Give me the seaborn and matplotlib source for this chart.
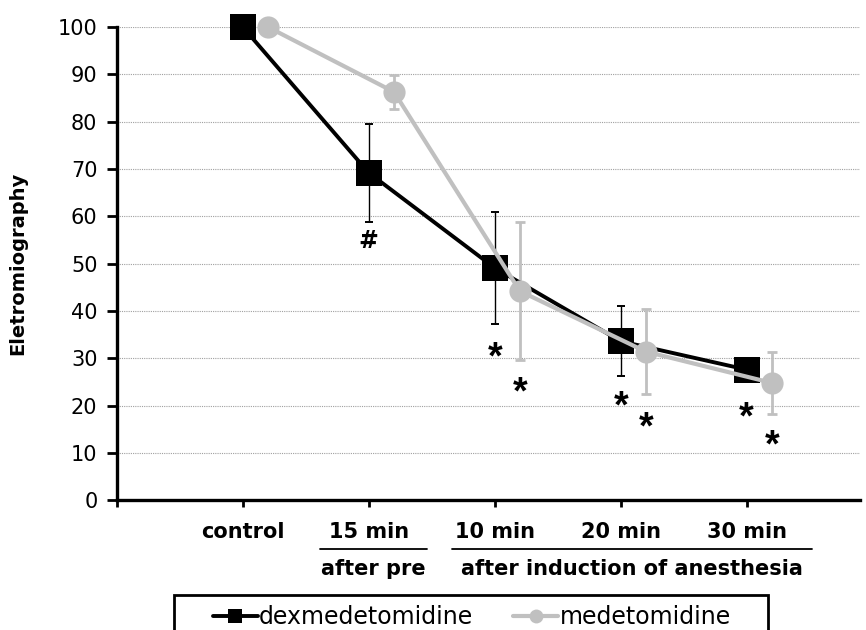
import numpy as np
import pandas as pd
import matplotlib.pyplot as plt
import seaborn as sns
from matplotlib.patches import Rectangle

# data (mean and SD per time point)
categories = ["control", "15 min", "10 min", "20 min", "30 min"]
dex_mean = [100, 69.2, 49.1, 33.6, 27.6]
dex_sd = [0, 10.4, 11.8, 7.4, 0.8]
med_mean = [100, 86.3, 44.2, 31.4, 24.8]
med_sd = [0, 3.6, 14.5, 9.0, 6.5]

# significance marks
sig_text = ["#", "*", "*", "*", "*", "*", "*"]
sig_cat = [1, 2, 2, 3, 3, 4, 4]
sig_series = ["dex", "dex", "med", "dex", "med", "dex", "med"]
sig_y = [54.8, 31.5, 24.1, 21.0, 16.7, 18.7, 12.9]

# period labels under the time points
group_labels = ["after pre", "after induction of anesthesia"]
group_start = [1.61, 2.66]
group_end = [2.46, 5.52]

GRAY = "#c0c0c0"
MED_SHIFT = 0.2

sns.set_style("white")
plt.rcParams["font.family"] = ["DejaVu Sans"]
for key in ["text.color", "axes.labelcolor", "xtick.color", "ytick.color"]:
    plt.rcParams[key] = "black"

pos = np.arange(1, len(categories) + 1)
df = pd.DataFrame({
    "pos": np.concatenate([pos, pos + MED_SHIFT]),
    "value": dex_mean + med_mean,
    "sd": dex_sd + med_sd,
    "drug": ["dexmedetomidine"] * len(pos) + ["medetomidine"] * len(pos),
})
dex = df[df["drug"] == "dexmedetomidine"]
med = df[df["drug"] == "medetomidine"]

fig = plt.figure(figsize=(8.66, 6.3), dpi=100)
ax = fig.add_axes([0.135, 0.206, 0.858, 0.751])

# error bars
ax.errorbar(dex["pos"], dex["value"], yerr=dex["sd"], fmt="none", ecolor="black",
            elinewidth=1.0, capsize=3, capthick=1.4, zorder=2)
ax.errorbar(med["pos"], med["value"], yerr=med["sd"], fmt="none", ecolor=GRAY,
            elinewidth=2.0, capsize=3.5, capthick=2.0, zorder=2)

sns.lineplot(data=dex, x="pos", y="value", color="black", marker="s", markersize=19,
             markeredgewidth=0, linewidth=2.8, errorbar=None, ax=ax,
             label="dexmedetomidine", zorder=3, clip_on=False)
sns.lineplot(data=med, x="pos", y="value", color=GRAY, marker="o", markersize=16,
             markeredgewidth=0, linewidth=3.0, errorbar=None, ax=ax,
             label="medetomidine", zorder=4, clip_on=False)

for txt, c, s, y in zip(sig_text, sig_cat, sig_series, sig_y):
    x = pos[c] + (MED_SHIFT if s == "med" else 0)
    if txt == "*":
        # asterisk glyph sits high in its box, nudge it down
        ax.annotate(txt, (x, y), xytext=(0, -5), textcoords="offset points",
                    ha="center", va="center", fontsize=27, fontweight="bold",
                    family="Liberation Sans")
    else:
        ax.text(x, y, txt, ha="center", va="center", fontsize=17, fontweight="bold")

ax.set_xlim(0, 5.9)
ax.set_ylim(0, 100)
ax.set_yticks(np.arange(0, 101, 10))
ax.set_xticks(np.arange(0, len(categories) + 1))
ax.set_xticklabels([""] + categories, fontsize=15, fontweight="bold")
ax.tick_params(axis="y", labelsize=15, length=7, width=2, pad=7, left=True)
ax.tick_params(axis="x", length=5, width=2, pad=11, bottom=True)
ax.yaxis.grid(True, linestyle=(0, (1, 1)), color="#a0a0a0", linewidth=0.8)
ax.set_axisbelow(True)
sns.despine(ax=ax)
for side in ["left", "bottom"]:
    ax.spines[side].set_linewidth(2.4)
    ax.spines[side].set_color("black")
ax.set_xlabel("")
ax.set_ylabel("Eletromiography", fontsize=14, fontweight="bold")
ax.yaxis.set_label_coords(-0.12, 0.5)

# period labels with rules above
trans = ax.get_xaxis_transform()
for lab, x0, x1 in zip(group_labels, group_start, group_end):
    ax.plot([x0, x1], [-0.1036, -0.1036], color="black", linewidth=1.3,
            transform=trans, clip_on=False)
    ax.text((x0 + x1) / 2, -0.145, lab, transform=trans, ha="center", va="center",
            fontsize=15, fontweight="bold")

handles, labels = ax.get_legend_handles_labels()
ax.get_legend().remove()
leg = fig.legend(handles, labels, loc="center left", ncol=2, frameon=False,
                 bbox_to_anchor=(213 / 866, 1 - 617 / 630), borderpad=0,
                 borderaxespad=0, fontsize=17, handlelength=1.9,
                 handletextpad=0.05, columnspacing=1.7)
for h in leg.legend_handles:
    h.set_markersize(10)
fig.patches.append(Rectangle((173.5 / 866, -0.05), 594 / 866, 0.05 + 35 / 630,
                             transform=fig.transFigure, fill=False,
                             edgecolor="black", linewidth=2.0))

fig.savefig("out.png", dpi=100)
